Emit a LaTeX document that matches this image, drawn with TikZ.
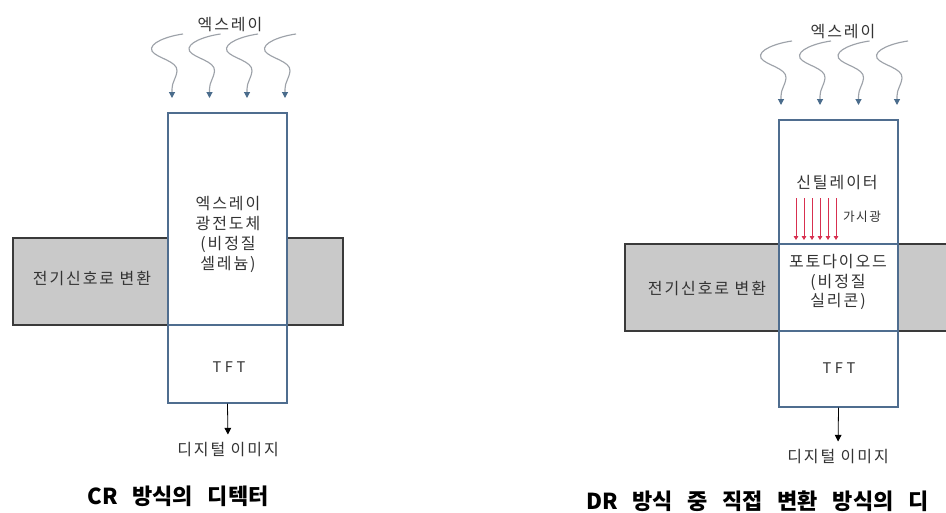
\documentclass[tikz,border=0pt]{standalone}
\usepackage{fontspec}
\setmainfont{Noto Sans CJK KR}
\newfontfamily\kr[LetterSpace=12]{Noto Sans CJK KR}
\newfontfamily\krt[LetterSpace=25]{Noto Sans CJK KR}
\usetikzlibrary{arrows.meta}
\definecolor{boxblue}{HTML}{4F6D8F}
\definecolor{bandfill}{HTML}{C9C9C9}
\definecolor{bandline}{HTML}{3A3A3A}
\definecolor{txtgray}{HTML}{333333}
\definecolor{wavegray}{HTML}{9DA2A9}
\definecolor{tipblue}{HTML}{4A6C8C}
\definecolor{visred}{HTML}{D83050}
\newcommand{\tgap}{\hspace{11pt}}
\tikzset{
  band/.style={draw=bandline, line width=1.1pt, fill=bandfill, inner sep=0pt, minimum width=247.5pt, minimum height=65.25pt},
  det/.style={draw=boxblue, line width=1.1pt, fill=white, inner sep=0pt, minimum width=89.25pt},
  txt/.style={font=\kr\fontsize{12pt}{15pt}\selectfont, text=txtgray, align=center, inner sep=0pt},
  smalltxt/.style={font=\kr\fontsize{9.5pt}{12pt}\selectfont, text=txtgray, inner sep=0pt},
  tfttxt/.style={font=\krt\fontsize{11pt}{12pt}\selectfont, text=txtgray, inner sep=0pt},
  title/.style={font=\bfseries\fontsize{16.5pt}{20pt}\selectfont, text=black, inner sep=0pt},
  wave/.style={draw=wavegray, line width=0.85pt, -{Triangle[length=4.5pt,width=4.5pt,color=tipblue]}},
  vis/.style={draw=visred, line width=0.6pt, -{Triangle[length=3pt,width=3.5pt]}},
  outarrow/.style={draw=black, line width=0.6pt, -{Triangle[length=5pt,width=5pt]}, shorten >=6pt},
  pics/xwave/.style={code={
    \draw[wave] (11,-64) .. controls (-4,-62) and (-24,-55) .. (-20,-47)
      .. controls (-16,-40) and (6,-37) .. (5,-27)
      .. controls (4,-19) and (0,-16) .. (0,-9) -- (0,0);}}
}
\begin{document}
\begin{tikzpicture}[x=0.75pt, y=-0.75pt]
\useasboundingbox (0,0) rectangle (946,512);
\clip (0,0) rectangle (946,512);
\fill[white] (0,0) rectangle (946,512);

% ---------- left panel (CR) ----------
\node[band] (bandL) at (178,281.5) {};
\node[txt] (cvL) at (92,278) {전기신호로 변환};
\node[det, minimum height=159pt] (pcL) at (227.5,219) {};
\node[det, minimum height=58.5pt] (tftL) at (227.5,364) {};
\node[txt] (pcLt) at (228,234) {엑스레이\\광전도체\\(비정질\\셀레늄)};
\node[tfttxt] (tftLt) at (229,367) {TFT};
\node[txt] (digL) at (228,450) {디지털 이미지};
\draw[outarrow] (tftL.south) -- (digL.north);
\node[txt] (xrL) at (230,25) {엑스레이};
\foreach \x in {172,209.5,247,285} \pic at (\x,98) {xwave};
\node[title] (tL) at (178,496) {CR\tgap 방식의\tgap 디텍터};

% ---------- right panel (DR direct) ----------
\node[band] (bandR) at (790,287.5) {};
\node[txt] (cvR) at (707,288) {전기신호로 변환};
\node[det, minimum height=93pt] (scR) at (838.5,182) {};
\node[det, minimum height=65.25pt] (pdR) at (838.5,287.5) {};
\node[det, minimum height=57pt] (tftR) at (838.5,369) {};
\node[txt] (scRt) at (837,183) {신틸레이터};
\node[smalltxt] (visR) at (862,217) {가시광};
\foreach \i in {0,...,5} {
  \coordinate (va\i) at ({796+8*\i},198);
  \coordinate (vb\i) at ({796+8*\i},240);
  \draw[vis] (va\i) -- (vb\i);
}
\node[txt, font=\kr\fontsize{12pt}{14.5pt}\selectfont] (pdRt) at (838,282) {포토다이오드\\(비정질\\실리콘)};
\node[tfttxt] (tftRt) at (839,368) {TFT};
\node[txt] (digR) at (838,457) {디지털 이미지};
\draw[outarrow] (tftR.south) -- (digR.north);
\node[txt] (xrR) at (843,32) {엑스레이};
\foreach \x in {781,820,858.5,897} \pic at (\x,105) {xwave};
\node[title, anchor=west] (tR) at (586,501) {DR\tgap 방식\tgap 중\tgap 직접\tgap 변환\tgap 방식의\tgap 디};
\end{tikzpicture}
\end{document}
